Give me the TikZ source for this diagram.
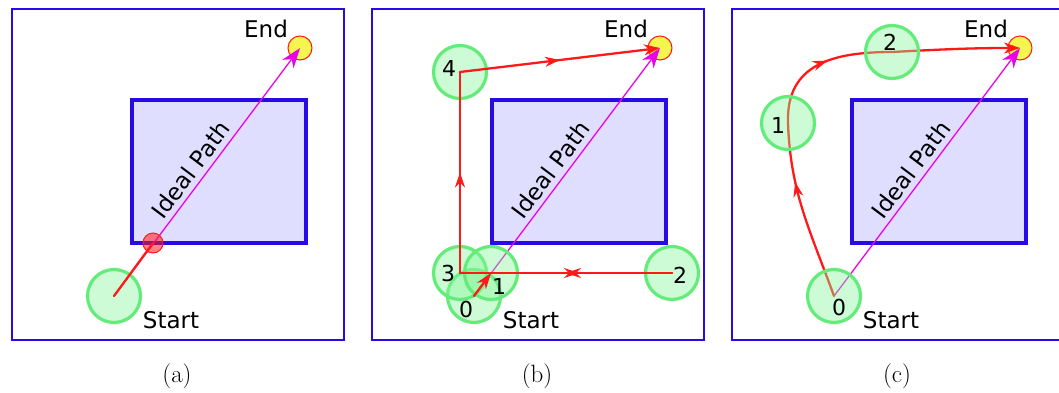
\documentclass[tikz,border=0pt]{standalone}
\usepackage{fontspec}
\usepackage{tikz}
\usetikzlibrary{arrows.meta, decorations.markings}

\newfontfamily\labelfont{DejaVu Sans}

\definecolor{framecol}{RGB}{40,10,230}
\definecolor{obstfill}{RGB}{224,222,255}
\definecolor{wayline}{RGB}{100,236,122}
\definecolor{wayfill}{RGB}{130,245,150}
\definecolor{pathred}{RGB}{255,25,25}
\definecolor{idealcol}{RGB}{235,0,235}
\definecolor{goalfill}{RGB}{245,245,80}

\begin{document}
\begin{tikzpicture}[x=1pt, y=1pt,
    frame/.style={draw=framecol, line width=1.8pt},
    obstacle/.style={draw=framecol, fill=obstfill, line width=3.3pt},
    waypoint/.style={circle, draw=wayline, fill=wayfill, fill opacity=0.4, line width=3.2pt, minimum size=53pt, inner sep=0pt},
    goal/.style={circle, draw=pathred, fill=goalfill, line width=1pt, minimum size=24pt, inner sep=0pt},
    hit/.style={circle, draw=pathred, fill=pathred, fill opacity=0.55, line width=1pt, minimum size=20pt, inner sep=0pt},
    ideal/.style={draw=idealcol, line width=1.3pt, -{Stealth[length=20pt, width=14pt, inset=6pt]}},
    ideallabel/.style={pos=0.475, sloped, above, inner sep=5pt, font=\labelfont\fontsize{23}{26}\selectfont, text=black},
    robot/.style={draw=pathred, line width=2.3pt, line cap=round},
    robotend/.style={robot, -{Stealth[length=16pt, width=11pt, inset=5pt]}},
    midarrow/.style={postaction={decorate}, decoration={markings, mark=at position #1 with {\arrow{Stealth[length=15pt, width=10pt, inset=5pt]}}}},
    txt/.style={font=\labelfont\fontsize{23}{26}\selectfont, inner sep=0pt},
    num/.style={font=\labelfont\fontsize{22}{26}\selectfont, inner sep=0pt},
    caption/.style={font=\fontsize{25}{30}\selectfont, inner sep=0pt}]

    \useasboundingbox (0,0) rectangle (1059,392);

    % (a) straight line to the goal
    \begin{scope}
        \draw[frame] (12,52) rectangle (344,383);
        \draw[obstacle] (132,149) rectangle (306,292);
        \node[goal] (ag) at (300,344) {};
        \node[waypoint] (a0) at (114,96) {};
        \draw[ideal] (a0.center) -- node[ideallabel] (alab) {Ideal Path} (ag.center);
        \node[hit] (ahit) at (153,149) {};
        \draw[robot] (a0.center) -- (ahit.center);
        \node[txt] (aend) at (266,363) {End};
        \node[txt] (astart) at (171,72) {Start};
        \node[caption] (acap) at (177,16) {(a)};
    \end{scope}

    % (b) wall following
    \begin{scope}[shift={(360,0)}]
        \draw[frame] (12,52) rectangle (344,383);
        \draw[obstacle] (132,149) rectangle (306,292);
        \node[goal] (bg) at (300,344) {};
        \node[waypoint] (b0) at (114,96) {};
        \draw[ideal] (b0.center) -- node[ideallabel] (blab) {Ideal Path} (bg.center);
        \node[waypoint] (b3) at (100,119) {};
        \node[waypoint] (b1) at (131,119) {};
        \node[waypoint] (b2) at (312,119) {};
        \node[waypoint] (b4) at (100,320) {};
        \draw[robotend] (b0.center) -- (b1.center);
        \draw[robot, midarrow=0.486] (b1.center) -- (b2.center);
        \draw[robot, midarrow=0.5] (b2.center) -- (b3.center);
        \draw[robot, midarrow=0.5] (b3.center) -- (b4.center);
        \draw[robotend, midarrow=0.5] (b4.center) -- (bg.center);
        \node[num] (b0l) at ([shift={(-8,-13)}]b0.center) {0};
        \node[num] (b1l) at ([shift={(8,-13)}]b1.center) {1};
        \node[num] (b2l) at ([shift={(8,-2)}]b2.center) {2};
        \node[num] (b3l) at ([shift={(-12,0)}]b3.center) {3};
        \node[num] (b4l) at ([shift={(-11,4)}]b4.center) {4};
        \node[txt] (bend) at (266,363) {End};
        \node[txt] (bstart) at (171,72) {Start};
        \node[caption] (bcap) at (177,16) {(b)};
    \end{scope}

    % (c) smooth path through the waypoints
    \begin{scope}[shift={(720,0)}]
        \draw[frame] (339,383) -- (12,383) -- (12,52) -- (339,52);
        \draw[obstacle] (132,149) rectangle (306,292);
        \node[goal] (cg) at (300,344) {};
        \coordinate (cp0) at (114,96);
        \coordinate (cp1) at (68,269);
        \coordinate (cp2) at (172,340);
        \draw[ideal] (cp0) -- node[ideallabel] (clab) {Ideal Path} (cg.center);
        \draw[robot, midarrow=0.67] (cp0) to[out=110, in=-88] (cp1);
        \draw[robot, midarrow=0.55] (cp1) to[out=92, in=180, looseness=1.2] (cp2);
        \draw[robotend] (cp2) to[out=3, in=180] (cg.center);
        \node[waypoint] (c0) at (cp0) {};
        \node[waypoint] (c1) at (cp1) {};
        \node[waypoint] (c2) at (cp2) {};
        \node[num] (c0l) at ([shift={(5,-11)}]c0.center) {0};
        \node[num] (c1l) at ([shift={(-10,-2)}]c1.center) {1};
        \node[num] (c2l) at ([shift={(-2,10)}]c2.center) {2};
        \node[txt] (cend) at (266,363) {End};
        \node[txt] (cstart) at (171,72) {Start};
        \node[caption] (ccap) at (177,16) {(c)};
    \end{scope}
\end{tikzpicture}
\end{document}
